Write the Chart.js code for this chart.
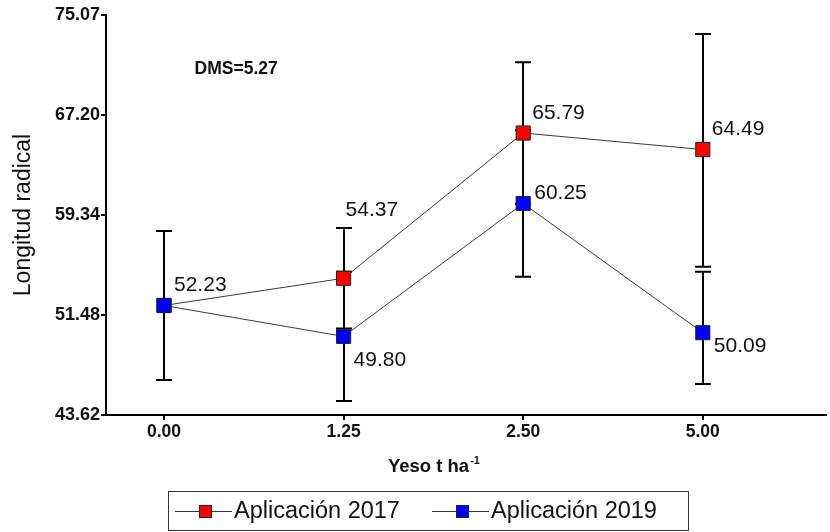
<!DOCTYPE html>
<html>
<head>
<meta charset="utf-8">
<script src="https://cdn.jsdelivr.net/npm/chart.js@4/dist/chart.umd.min.js"></script>
<style>
  html, body { margin: 0; padding: 0; background: #fff; }
  #wrap { width: 830px; height: 532px; }
</style>
</head>
<body>
<div id="wrap"><canvas id="c" width="830" height="532"></canvas></div>
<script>
// Gypsum doses (t/ha) and root length per application year
const doses = ['0.00', '1.25', '2.50', '5.00'];
const yTicks = [43.62, 51.48, 59.34, 67.20, 75.07];
const app2017 = [52.23, 54.37, 65.79, 64.49];
const app2019 = [52.23, 49.80, 60.25, 50.09];
// error bar extents above / below each mean
const err2017Up = [5.86, 3.95, 5.56, 9.08];
const err2017Down = [5.86, 3.95, 5.56, 9.21];
const err2019Up = [5.86, 5.08, 5.76, 4.80];
const err2019Down = [5.86, 5.08, 5.76, 4.03];
const dmsValue = 5.27;

const FONT = "'Liberation Sans', Arial, sans-serif";
Chart.defaults.font.family = FONT;

const errorBars = {
  id: 'errorBars',
  beforeDatasetsDraw(chart) {
    const { ctx } = chart;
    const ys = chart.scales.y;
    ctx.save();
    ctx.strokeStyle = '#000';
    ctx.lineWidth = 2;
    chart.data.datasets.forEach((ds, di) => {
      const meta = chart.getDatasetMeta(di);
      meta.data.forEach((pt, i) => {
        const v = ds.data[i].y;
        const top = ys.getPixelForValue(v + ds.errUp[i]);
        const bot = ys.getPixelForValue(v - ds.errDown[i]);
        const x = Math.round(pt.x);
        ctx.beginPath();
        ctx.moveTo(x, top); ctx.lineTo(x, bot);
        ctx.moveTo(x - 8, top); ctx.lineTo(x + 8, top);
        ctx.moveTo(x - 8, bot); ctx.lineTo(x + 8, bot);
        ctx.stroke();
      });
    });
    ctx.restore();
  }
};

const valueLabels = {
  id: 'valueLabels',
  afterDatasetsDraw(chart, args, opts) {
    const { ctx } = chart;
    ctx.save();
    ctx.font = '21px ' + FONT;
    ctx.fillStyle = '#111';
    ctx.textAlign = 'left';
    ctx.textBaseline = 'middle';
    chart.data.datasets.forEach((ds, di) => {
      const meta = chart.getDatasetMeta(di);
      const offs = opts.offsets[di];
      meta.data.forEach((pt, i) => {
        const o = offs[i];
        if (!o) return;
        ctx.fillText(ds.data[i].y.toFixed(2), pt.x + o[0], pt.y + o[1]);
      });
    });
    ctx.restore();
  }
};

const extras = {
  id: 'extras',
  afterDraw(chart) {
    const { ctx } = chart;
    const xs = chart.scales.x, ys = chart.scales.y;
    ctx.save();
    ctx.fillStyle = '#111';
    // least significant difference note
    ctx.font = 'bold 17.5px ' + FONT;
    ctx.textAlign = 'left';
    ctx.textBaseline = 'middle';
    ctx.fillText('DMS=' + dmsValue.toFixed(2), xs.getPixelForValue(0.17), ys.getPixelForValue(70.85));

    // x axis title with superscript
    const main = 'Yeso t ha', sup = '-1';
    ctx.font = 'bold 18.5px ' + FONT;
    const wMain = ctx.measureText(main).width;
    ctx.font = 'bold 11px ' + FONT;
    const wSup = ctx.measureText(sup).width;
    const cx = (xs.getPixelForValue(0) + xs.getPixelForValue(doses.length - 1)) / 2;
    const x0 = cx - (wMain + wSup) / 2;
    ctx.textBaseline = 'alphabetic';
    ctx.font = 'bold 18.5px ' + FONT;
    ctx.fillText(main, x0, 472);
    ctx.font = 'bold 11px ' + FONT;
    ctx.fillText(sup, x0 + wMain + 1, 464);

    // legend
    ctx.strokeStyle = '#333';
    ctx.lineWidth = 1;
    ctx.strokeRect(168.5, 491.5, 520, 39);
    const items = [
      { x: 175, label: 'Aplicación 2017', color: '#ff0000' },
      { x: 432, label: 'Aplicación 2019', color: '#0000ff' }
    ];
    const ly = 511;
    items.forEach(it => {
      ctx.strokeStyle = '#333';
      ctx.lineWidth = 1;
      ctx.beginPath();
      ctx.moveTo(it.x, ly + 0.5); ctx.lineTo(it.x + 57, ly + 0.5);
      ctx.stroke();
      ctx.fillStyle = it.color;
      ctx.fillRect(it.x + 24, ly - 6, 13, 13);
      ctx.strokeStyle = '#222';
      ctx.strokeRect(it.x + 24.5, ly - 5.5, 12, 12);
      ctx.fillStyle = '#111';
      ctx.font = '23.5px ' + FONT;
      ctx.textBaseline = 'middle';
      ctx.fillText(it.label, it.x + 59, ly + 1);
    });
    ctx.restore();
  }
};

new Chart(document.getElementById('c'), {
  type: 'line',
  data: {
    labels: doses,
    datasets: [
      {
        label: 'Aplicación 2017',
        data: app2017.map((v, i) => ({ x: i, y: v })),
        errUp: err2017Up, errDown: err2017Down,
        borderColor: '#3a3a3a', borderWidth: 1,
        backgroundColor: '#ff0000',
        pointStyle: 'rect', pointRadius: 10, pointHoverRadius: 10,
        pointBorderColor: '#222', pointBorderWidth: 1,
        order: 1
      },
      {
        label: 'Aplicación 2019',
        data: app2019.map((v, i) => ({ x: i, y: v })),
        errUp: err2019Up, errDown: err2019Down,
        borderColor: '#3a3a3a', borderWidth: 1,
        backgroundColor: '#0000ff',
        pointStyle: 'rect', pointRadius: 10, pointHoverRadius: 10,
        pointBorderColor: '#222', pointBorderWidth: 1,
        order: 0
      }
    ]
  },
  options: {
    responsive: false,
    animation: false,
    devicePixelRatio: 1,
    layout: { autoPadding: false, padding: { top: 15, right: 4, bottom: 60, left: 0 } },
    plugins: {
      legend: { display: false },
      tooltip: { enabled: false },
      valueLabels: {
        offsets: [
          [null, [2, -68], [9, -20], [9, -20]],
          [[10, -20], [10, 24], [11, -10], [11, 13]]
        ]
      }
    },
    scales: {
      x: {
        type: 'linear',
        min: -0.323,
        max: 3.686,
        afterBuildTicks(scale) { scale.ticks = doses.map((_, i) => ({ value: i })); },
        afterFit(scale) { scale.height = 57; scale.paddingLeft = 0; scale.paddingRight = 0; },
        ticks: {
          callback: (v) => doses[v] !== undefined ? doses[v] : '',
          font: { size: 17.5, weight: 'bold' },
          color: '#111',
          padding: 2,
          maxRotation: 0
        },
        grid: { drawOnChartArea: false, drawTicks: true, tickLength: 5, color: '#000', lineWidth: 2 },
        border: { display: true, color: '#000', width: 2 }
      },
      y: {
        min: yTicks[0],
        max: yTicks[yTicks.length - 1],
        afterBuildTicks(scale) { scale.ticks = yTicks.map(v => ({ value: v })); },
        afterFit(scale) { scale.width = 106; },
        ticks: {
          callback: (v) => Number(v).toFixed(2),
          font: { size: 18, weight: 'bold' },
          color: '#111',
          padding: 1
        },
        grid: { drawOnChartArea: false, drawTicks: true, tickLength: 5, color: '#000', lineWidth: 2 },
        border: { display: true, color: '#000', width: 2 },
        title: {
          display: true,
          text: 'Longitud radical',
          font: { size: 23 },
          color: '#111',
          padding: { top: 10, bottom: 0 }
        }
      }
    }
  },
  plugins: [errorBars, valueLabels, extras]
});
</script>
</body>
</html>
